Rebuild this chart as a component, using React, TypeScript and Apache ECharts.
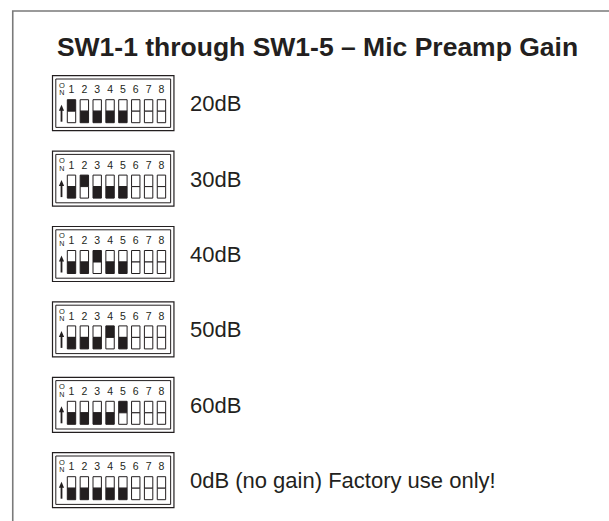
import React, { useEffect, useRef } from 'react';
import * as echarts from 'echarts';

const title = 'SW1-1 through SW1-5 – Mic Preamp Gain';
const gainLabels = ['20dB', '30dB', '40dB', '50dB', '60dB', '0dB (no gain) Factory use only!'];
// switch number that is ON in each row (0 = none ON)
const onSwitch = [1, 2, 3, 4, 5, 0];
const switchNumbers = ['1', '2', '3', '4', '5', '6', '7', '8'];
const gainSwitchCount = 5;

const INK = '#231f20';
const FONT = '"Liberation Sans", Arial, Helvetica, sans-serif';

export default function App() {
  const ref = useRef<HTMLDivElement>(null);

  useEffect(() => {
    const chart = echarts.init(ref.current as HTMLDivElement, null, { renderer: 'svg' });

    const rowData = gainLabels.map((_g, r) => [0, r]);
    const cellData: number[][] = [];
    gainLabels.forEach((_g, r) => {
      switchNumbers.forEach((_n, s) => {
        const num = s + 1;
        const state = num > gainSwitchCount ? -1 : num === onSwitch[r] ? 1 : 0;
        cellData.push([s, r, state]);
      });
    });

    const txt = (text: string, x: number, y: number, size: number, align = 'center', weight = 'normal') => ({
      type: 'text',
      style: {
        text,
        x,
        y,
        fill: INK,
        fontSize: size,
        fontFamily: FONT,
        fontWeight: weight,
        align,
        textAlign: align,
        verticalAlign: 'middle',
        textVerticalAlign: 'middle',
        lineHeight: size,
      },
    });

    chart.setOption({
      animation: false,
      backgroundColor: '#ffffff',
      grid: { left: 71.5, width: 89.95, top: 65.5, height: 452.4 },
      xAxis: { type: 'value', min: 0, max: 7, show: false },
      yAxis: { type: 'category', data: gainLabels, inverse: true, show: false },
      graphic: [
        {
          type: 'polyline',
          shape: { points: [[12.75, 521], [12.75, 11], [609, 11]] },
          style: { stroke: '#7a7a7a', lineWidth: 1.6, fill: 'none' },
        },
        {
          type: 'text',
          x: 317.5,
          y: 47,
          style: {
            text: title,
            fill: INK,
            fontSize: 26.5,
            fontWeight: 'bold',
            fontFamily: FONT,
            align: 'center',
            textAlign: 'center',
            verticalAlign: 'middle',
            textVerticalAlign: 'middle',
          },
        },
      ],
      series: [
        {
          type: 'custom',
          clip: false,
          encode: { x: 0, y: 1 },
          data: rowData,
          renderItem: (_params: any, api: any) => {
            const r = api.value(1);
            const p0 = api.coord([0, r]);
            const x0 = p0[0];
            const yc = p0[1];
            const x7 = api.coord([7, r])[0];
            const step = (x7 - x0) / 7;
            const L = x0 - 19;
            const R = x7 + 12.5;
            const T = yc - 27.5;
            const H = 55;
            const ax = x0 - 10;
            const children: any[] = [
              {
                type: 'rect',
                shape: { x: L, y: T, width: R - L, height: H },
                style: { fill: '#ffffff', stroke: INK, lineWidth: 1.2 },
              },
              {
                type: 'rect',
                shape: { x: L + 3.3, y: T + 3.3, width: R - L - 6.6, height: H - 6.6 },
                style: { fill: 'none', stroke: INK, lineWidth: 1 },
              },
              txt('O', ax + 0.3, yc - 18.2, 7.5),
              txt('N', ax + 0.3, yc - 10.6, 7.2),
              {
                type: 'line',
                shape: { x1: ax, y1: yc + 18.5, x2: ax, y2: yc + 6 },
                style: { stroke: INK, lineWidth: 1.8 },
              },
              {
                type: 'polygon',
                shape: { points: [[ax, yc + 1.5], [ax - 2.6, yc + 7.5], [ax + 2.6, yc + 7.5]] },
                style: { fill: INK },
              },
              txt(gainLabels[r], x7 + 28.5, yc + 0.5, 22, 'left'),
            ];
            switchNumbers.forEach((n, i) => {
              children.push(txt(n, x0 + step * i, yc - 13.8, 10.5));
            });
            return { type: 'group', children };
          },
        },
        {
          type: 'custom',
          clip: false,
          encode: { x: 0, y: 1 },
          data: cellData,
          z: 3,
          renderItem: (_params: any, api: any) => {
            const s = api.value(0);
            const r = api.value(1);
            const state = api.value(2);
            const p = api.coord([s, r]);
            const cx = p[0];
            const yc = p[1];
            const w = 8.4;
            const top = yc - 3.5;
            const mid = yc + 8;
            const bot = yc + 19.5;
            return {
              type: 'group',
              children: [
                {
                  type: 'rect',
                  shape: { x: cx - w / 2, y: top, width: w, height: mid - top },
                  style: { fill: state === 1 ? INK : '#ffffff', stroke: INK, lineWidth: 1 },
                },
                {
                  type: 'rect',
                  shape: { x: cx - w / 2, y: mid, width: w, height: bot - mid },
                  style: { fill: state === 0 ? INK : '#ffffff', stroke: INK, lineWidth: 1 },
                },
              ],
            };
          },
        },
      ],
    });

    return () => {
      chart.dispose();
    };
  }, []);

  return (
    <div
      ref={ref}
      style={{ position: 'absolute', left: 0, top: 0, width: 609, height: 521 }}
    />
  );
}
